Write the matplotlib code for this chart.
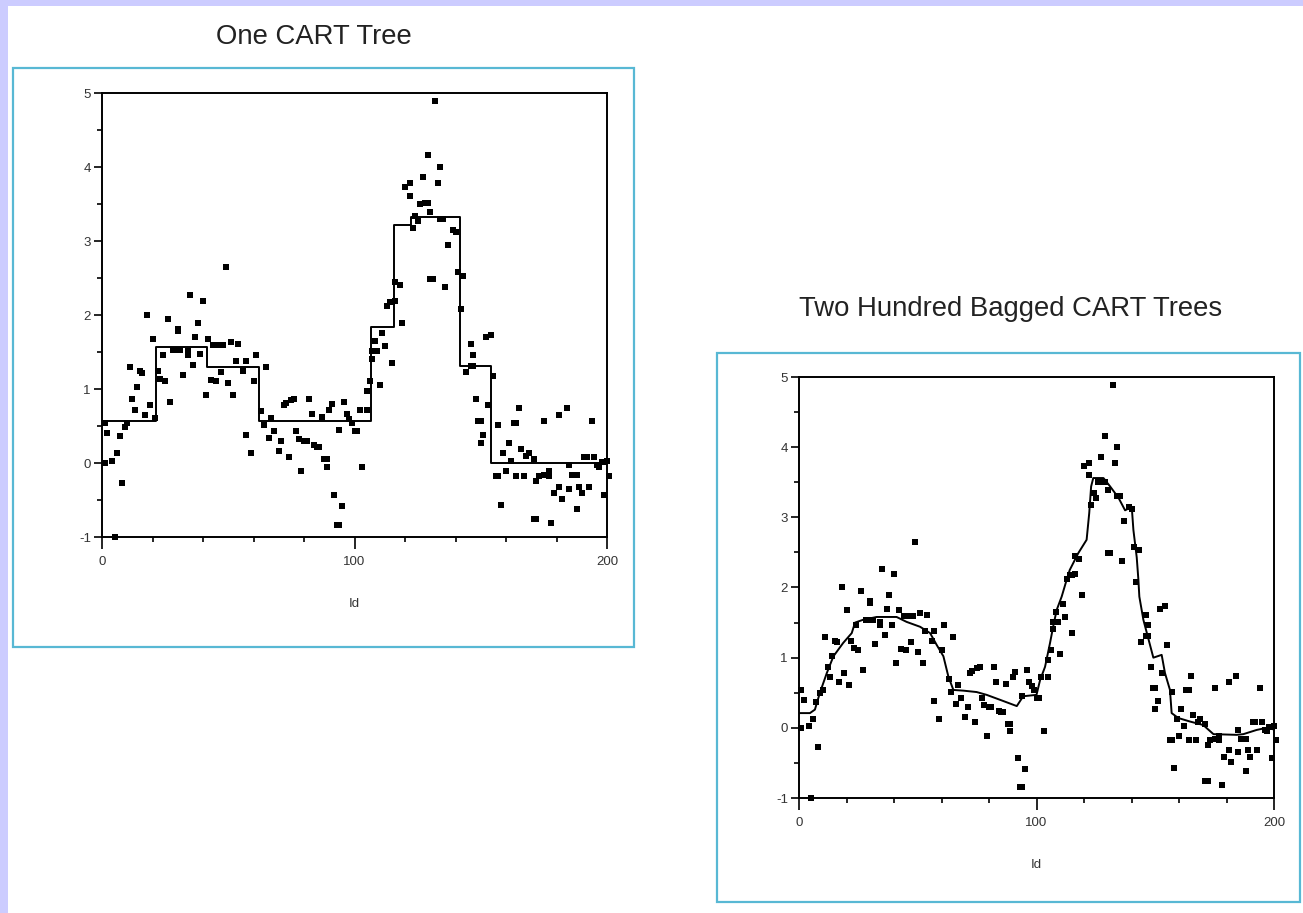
import matplotlib
matplotlib.use("Agg")
import matplotlib.pyplot as plt
from matplotlib.patches import Rectangle
from matplotlib.ticker import MultipleLocator, FixedLocator

plt.rcParams['font.family'] = ['Liberation Sans', 'DejaVu Sans']
plt.rcParams['axes.unicode_minus'] = False

# ---------------- data ----------------
ids = [1, 1, 2, 4, 5, 6, 7, 8, 9, 10,
       11, 12, 13, 14, 15, 16, 17, 18, 19, 20,
       21, 22, 23, 24, 25, 26, 27, 28, 29, 30,
       30, 31, 32, 34, 34, 35, 36, 37, 38, 39,
       40, 41, 42, 43, 44, 45, 46, 47, 47, 48,
       49, 50, 51, 52, 53, 54, 56, 57, 57, 59,
       60, 61, 63, 64, 65, 66, 67, 68, 70, 71,
       72, 73, 74, 75, 76, 77, 78, 79, 80, 81,
       82, 83, 84, 85, 86, 87, 88, 89, 89, 90,
       91, 92, 93, 94, 94, 95, 96, 97, 98, 99,
       100, 101, 102, 103, 105, 105, 106, 107, 107, 108,
       108, 109, 110, 111, 112, 113, 114, 115, 115, 116,
       116, 118, 119, 120, 122, 122, 123, 124, 125, 126,
       127, 128, 129, 129, 130, 130, 131, 132, 133, 134,
       134, 135, 136, 137, 139, 140, 141, 142, 143, 144,
       146, 146, 147, 147, 148, 149, 150, 150, 151, 152,
       153, 154, 155, 156, 157, 157, 158, 159, 160, 161,
       162, 163, 164, 164, 165, 166, 167, 168, 169, 171,
       171, 172, 172, 173, 175, 175, 177, 177, 178, 179,
       181, 181, 182, 184, 185, 185, 186, 188, 188, 189,
       190, 191, 192, 193, 194, 195, 196, 197, 198, 199,
       199, 200, 200.7]
values = [0.54, 0.00, 0.40, 0.03, -1.00, 0.13, 0.37, -0.27, 0.49, 0.54,
          1.30, 0.86, 0.72, 1.03, 1.24, 1.22, 0.65, 2.00, 0.78, 1.68,
          0.61, 1.24, 1.14, 1.46, 1.11, 1.95, 0.82, 1.53, 1.53, 1.81,
          1.78, 1.53, 1.19, 1.46, 1.51, 2.27, 1.32, 1.70, 1.89, 1.47,
          2.19, 0.92, 1.68, 1.12, 1.59, 1.11, 1.59, 1.23, 1.59, 1.59,
          2.65, 1.08, 1.64, 0.92, 1.38, 1.61, 1.24, 0.38, 1.38, 0.13,
          1.11, 1.46, 0.70, 0.51, 1.30, 0.34, 0.61, 0.43, 0.16, 0.30,
          0.78, 0.81, 0.08, 0.85, 0.86, 0.43, 0.32, -0.11, 0.30, 0.30,
          0.86, 0.66, 0.24, 0.22, 0.22, 0.62, 0.05, 0.05, -0.05, 0.72,
          0.80, -0.43, -0.84, -0.84, 0.45, -0.58, 0.82, 0.66, 0.59, 0.54,
          0.43, 0.43, 0.72, -0.05, 0.72, 0.97, 1.11, 1.41, 1.51, 1.51,
          1.65, 1.51, 1.05, 1.76, 1.58, 2.12, 2.18, 2.18, 1.35, 2.19,
          2.45, 2.41, 1.89, 3.73, 3.61, 3.78, 3.18, 3.34, 3.27, 3.50,
          3.86, 3.51, 3.51, 4.16, 3.39, 2.49, 2.49, 4.89, 3.78, 4.00,
          3.30, 3.30, 2.38, 2.95, 3.15, 3.12, 2.58, 2.08, 2.53, 1.23,
          1.61, 1.31, 1.31, 1.46, 0.86, 0.57, 0.57, 0.27, 0.38, 1.70,
          0.78, 1.73, 1.18, -0.17, -0.17, 0.51, -0.57, 0.13, -0.11, 0.27,
          0.03, 0.54, 0.54, -0.17, 0.74, 0.19, -0.17, 0.09, 0.13, 0.05,
          -0.76, -0.76, -0.24, -0.17, -0.16, 0.57, -0.11, -0.17, -0.81, -0.41,
          -0.32, 0.65, -0.49, 0.74, -0.03, -0.35, -0.16, -0.62, -0.16, -0.32,
          -0.41, 0.08, 0.08, -0.32, 0.57, 0.08, -0.03, -0.05, 0.01, 0.01,
          -0.43, 0.03, -0.17]

# single CART tree (step function: value holds from breakpoint onward)
cart_x = [0, 21.4, 41.6, 62, 106.7, 115.6, 122.3, 141.7, 154.2, 200]
cart_y = [0.57, 1.57, 1.30, 0.57, 1.84, 3.22, 3.33, 1.31, 0.0, 0.0]

# 200 bagged CART trees (averaged prediction)
bag_x = [0, 4.6, 6.7, 8.8, 11.7, 14.5, 18.6, 22.2, 23.6, 27, 32.7, 41.1,
         45.3, 51, 55.2, 58, 60.8, 62.9, 65, 69.2, 74.8, 79, 84.6, 91.7,
         94.4, 100, 101.5, 103.6, 105.7, 107, 108.5, 110.6, 112.7, 114,
         117.6, 121.1, 122.2, 123, 123.9, 128.2, 131, 134.5, 137.3, 140.1,
         140.8, 142.2, 142.9, 143.3, 145, 149.2, 152.7, 154.1, 156.2, 156.9,
         159.7, 164.6, 170.2, 174.5, 184.3, 187.1, 192.7, 198.3, 200]
bag_y = [0.21, 0.21, 0.26, 0.50, 0.78, 1.02, 1.21, 1.35, 1.50, 1.54, 1.58, 1.58,
         1.51, 1.44, 1.35, 1.18, 1.02, 0.73, 0.54, 0.53, 0.51, 0.47, 0.40, 0.31,
         0.45, 0.47, 0.68, 0.87, 1.21, 1.44, 1.68, 1.87, 2.11, 2.25,
         2.49, 2.68, 3.06, 3.44, 3.56, 3.56, 3.44, 3.28, 3.10, 3.15,
         2.82, 2.43, 2.11, 1.87, 1.54, 1.00, 1.04, 0.78, 0.54, 0.21,
         0.14, 0.09, 0.04, -0.09, -0.10, -0.09, -0.03, 0.01, -0.03]

titles = ["One CART Tree", "Two Hundred Bagged CART Trees"]
x_label = "Id"
x_major = [0, 100, 200]
y_major = [-1, 0, 1, 2, 3, 4, 5]

# ---------------- figure ----------------
W, H = 1303, 913
fig = plt.figure(figsize=(W / 100, H / 100), dpi=100, facecolor='white')

def fx(px):
    return px / W

def fy(py):
    return 1 - py / H

# lavender slide strips
fig.patches.append(Rectangle((0, 0), fx(8), 1, transform=fig.transFigure,
                             facecolor='#ccccff', edgecolor='none', zorder=0))
fig.patches.append(Rectangle((0, fy(6)), 1, 6 / H, transform=fig.transFigure,
                             facecolor='#ccccff', edgecolor='none', zorder=0))

# cyan frames
for (x0, y0, x1, y1) in [(13, 68, 634, 647), (717, 353, 1300, 902)]:
    fig.patches.append(Rectangle((fx(x0), fy(y1)), fx(x1) - fx(x0), fy(y0) - fy(y1),
                                 transform=fig.transFigure, fill=False,
                                 edgecolor='#58b8d4', linewidth=1.6, zorder=1))

ax_rects = [
    (fx(102), fy(537), fx(607) - fx(102), fy(93) - fy(537)),
    (fx(799), fy(798), fx(1274) - fx(799), fy(377) - fy(798)),
]

axes = [fig.add_axes(r) for r in ax_rects]

for ax in axes:
    ax.plot(ids, values, linestyle='none', marker='s', markersize=4.0,
            markerfacecolor='black', markeredgewidth=0, color='black',
            clip_on=False, zorder=3)
    ax.set_xlim(0, 200)
    ax.set_ylim(-1, 5)
    ax.xaxis.set_major_locator(FixedLocator(x_major))
    ax.xaxis.set_minor_locator(MultipleLocator(20))
    ax.yaxis.set_major_locator(FixedLocator(y_major))
    ax.yaxis.set_minor_locator(MultipleLocator(0.5))
    ax.tick_params(axis='x', which='major', length=8.5, width=1.2, pad=5,
                   labelsize=9.5, labelcolor='#333333', direction='out')
    ax.tick_params(axis='x', which='minor', length=3.8, width=1.2, direction='out')
    ax.tick_params(axis='y', which='major', length=6, width=1.2, pad=2,
                   labelsize=9.5, labelcolor='#333333', direction='out')
    ax.tick_params(axis='y', which='minor', length=3.8, width=1.2, direction='out')
    for s in ax.spines.values():
        s.set_linewidth(1.4)
        s.set_color('black')
    ax.set_xlabel(x_label, fontsize=9.5, color='#333333', labelpad=22)

axes[0].step(cart_x, cart_y, where='post', color='black', linewidth=1.4, zorder=4)
axes[1].plot(bag_x, bag_y, color='black', linewidth=1.4, zorder=4)

fig.text(fx(314), fy(44), titles[0], ha='center', va='baseline',
         fontsize=19.8, color='#222222')
fig.text(fx(1011), fy(316), titles[1], ha='center', va='baseline',
         fontsize=19.8, color='#222222')

fig.savefig('out.png', dpi=100, facecolor=fig.get_facecolor())
